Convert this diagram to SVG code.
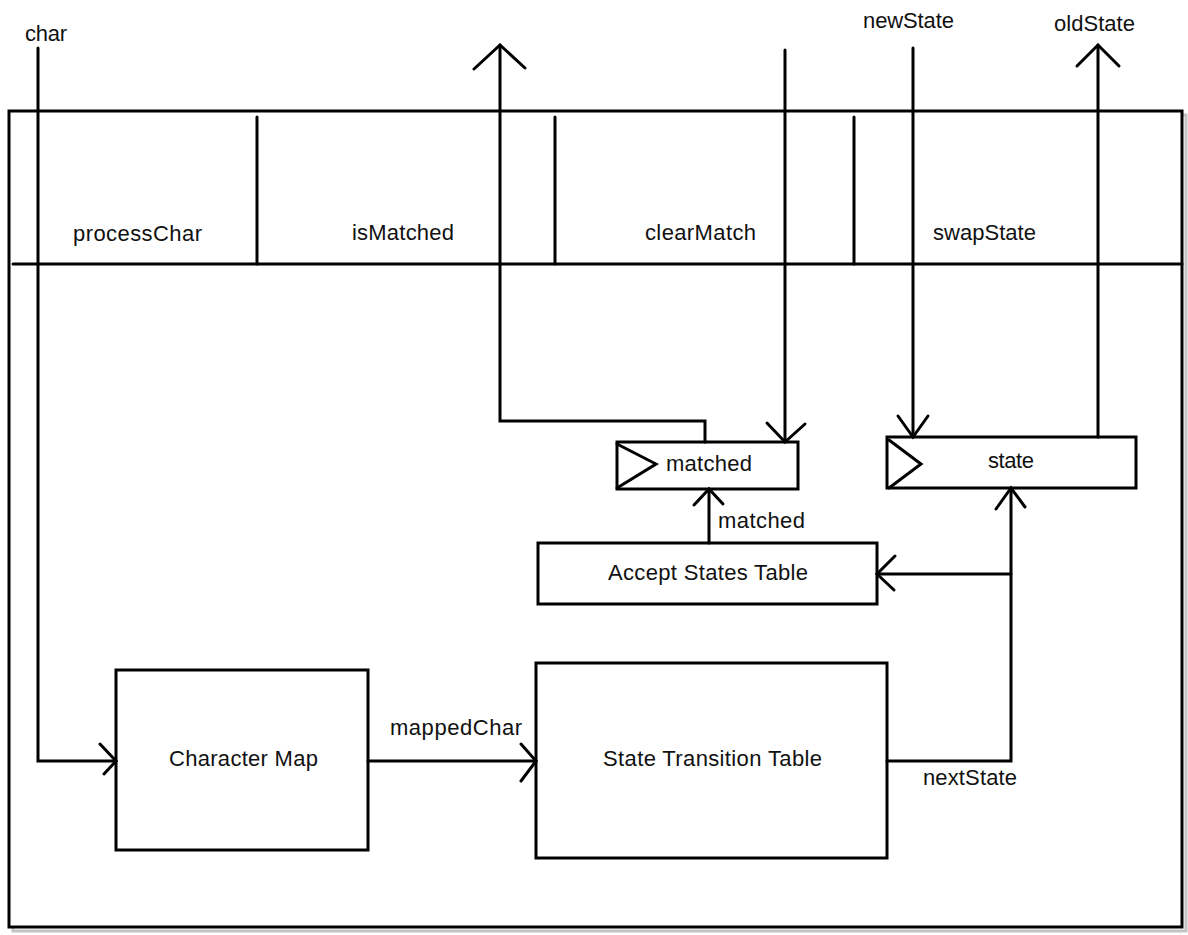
<svg xmlns="http://www.w3.org/2000/svg" width="1188" height="935" viewBox="0 0 1188 935">
  <style>
    .ln { fill: none; stroke: #000; stroke-width: 3; stroke-linejoin: miter; stroke-linecap: round; }
    .box { fill: #fff; stroke: #000; stroke-width: 3; }
    .ah { fill: none; stroke: #000; stroke-width: 3; stroke-linecap: round; stroke-linejoin: miter; }
    text { font-family: "Liberation Sans", Arial, sans-serif; font-size: 22px; fill: #111; }
  </style>

  <rect width="1188" height="935" fill="#fff"/>

  <!-- module frame with soft drop shadow -->
  <g id="module">
    <rect x="13" y="115" width="1173" height="816" fill="none" stroke="#c4c4c4" stroke-width="3"/>
    <rect x="9" y="111" width="1173" height="816" fill="#fff" stroke="#000" stroke-width="3"/>
  </g>

  <!-- method header strip -->
  <g id="methods">
    <line class="ln" x1="13" y1="264" x2="1182" y2="264"/>
    <line class="ln" x1="257" y1="117" x2="257" y2="264"/>
    <line class="ln" x1="555" y1="117" x2="555" y2="264"/>
    <line class="ln" x1="854" y1="117" x2="854" y2="264"/>
    <text x="73" y="241" textLength="129" lengthAdjust="spacing">processChar</text>
    <text x="352" y="240" textLength="102" lengthAdjust="spacing">isMatched</text>
    <text x="645" y="240" textLength="111" lengthAdjust="spacing">clearMatch</text>
    <text x="933" y="240" textLength="103" lengthAdjust="spacing">swapState</text>
  </g>

  <g id="matched-reg">
    <rect class="box" x="617" y="442" width="181" height="47"/>
    <polyline class="ln" points="617,444 656,464 617,488"/>
    <text x="666" y="471" textLength="86" lengthAdjust="spacing">matched</text>
  </g>

  <g id="state-reg">
    <rect class="box" x="887" y="437" width="249" height="51"/>
    <polyline class="ln" points="889,440 921,464 889,488"/>
    <text x="988" y="468" textLength="46" lengthAdjust="spacing">state</text>
  </g>

  <g id="accept-table">
    <rect class="box" x="538" y="543" width="339" height="61"/>
    <text x="608" y="580" textLength="200" lengthAdjust="spacing">Accept States Table</text>
  </g>

  <g id="char-map">
    <rect class="box" x="116" y="670" width="252" height="180"/>
    <text x="169" y="766" textLength="149" lengthAdjust="spacing">Character Map</text>
  </g>

  <g id="transition-table">
    <rect class="box" x="536" y="663" width="351" height="195"/>
    <text x="603" y="766" textLength="219" lengthAdjust="spacing">State Transition Table</text>
  </g>

  <g id="connectors">
    <!-- char input -->
    <polyline class="ln" points="38,48 38,761 116,761"/>
    <polyline class="ah" points="100,744 116,761 104,774"/>
    <text x="25" y="41" textLength="42" lengthAdjust="spacing">char</text>

    <!-- isMatched output -->
    <polyline class="ln" points="500,45 500,421 705,421 705,442"/>
    <polyline class="ah" points="474,69 500,45 525,68"/>

    <!-- clearMatch input -->
    <line class="ln" x1="785" y1="50" x2="785" y2="442"/>
    <polyline class="ah" points="767,423 785,442 805,424"/>

    <!-- newState input -->
    <line class="ln" x1="913" y1="48" x2="913" y2="437"/>
    <polyline class="ah" points="898,416 913,437 928,416"/>
    <text x="863" y="28" textLength="91" lengthAdjust="spacing">newState</text>

    <!-- oldState output -->
    <line class="ln" x1="1098" y1="45" x2="1098" y2="437"/>
    <polyline class="ah" points="1077,66 1098,45 1119,66"/>
    <text x="1054" y="31" textLength="81" lengthAdjust="spacing">oldState</text>

    <!-- accept table to matched register -->
    <line class="ln" x1="709" y1="543" x2="709" y2="489"/>
    <polyline class="ah" points="694,505 709,489 723,504"/>
    <text x="718" y="528" textLength="87" lengthAdjust="spacing">matched</text>

    <!-- mappedChar -->
    <line class="ln" x1="368" y1="761" x2="536" y2="761"/>
    <polyline class="ah" points="521,744 536,761 521,781"/>
    <text x="390" y="735" textLength="132" lengthAdjust="spacing">mappedChar</text>

    <!-- nextState to state register and accept table -->
    <polyline class="ln" points="887,761 1011,761 1011,488"/>
    <polyline class="ah" points="996,509 1011,488 1025,507"/>
    <line class="ln" x1="1011" y1="574" x2="877" y2="574"/>
    <polyline class="ah" points="895,556 877,574 894,590"/>
    <text x="923" y="785" textLength="94" lengthAdjust="spacing">nextState</text>
  </g>
</svg>
